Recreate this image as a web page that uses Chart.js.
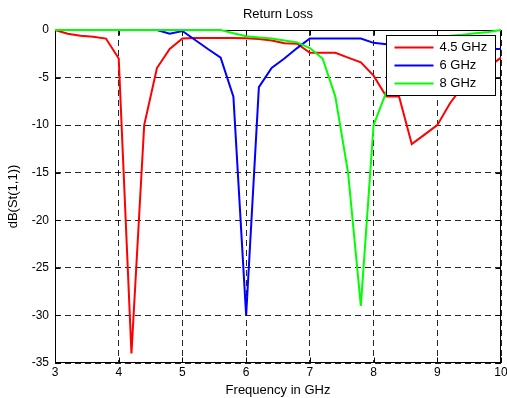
<!DOCTYPE html>
<html>
<head>
<meta charset="utf-8">
<script src="https://cdn.jsdelivr.net/npm/chart.js@4/dist/chart.umd.min.js"></script>
<style>
  html, body { margin: 0; padding: 0; background: #fff; }
  canvas { display: block; }
</style>
</head>
<body>
<canvas id="c" width="507" height="398"></canvas>
<script>
// Frequency samples (GHz)
const freq = [3.0, 3.2, 3.4, 3.6, 3.8, 4.0, 4.2, 4.4, 4.6, 4.8,
              5.0, 5.2, 5.4, 5.6, 5.8, 6.0, 6.2, 6.4, 6.6, 6.8,
              7.0, 7.2, 7.4, 7.6, 7.8, 8.0, 8.2, 8.4, 8.6, 8.8,
              9.0, 9.2, 9.4, 9.6, 9.8, 10.0];

// Return loss, dB(St(1,1))
const rl45 = [0, -0.4, -0.6, -0.7, -0.9, -3, -34, -10, -4, -2,
              -0.9, -0.85, -0.85, -0.85, -0.85, -0.87, -0.95, -1.1, -1.4, -1.45,
              -2.4, -2.4, -2.4, -2.9, -3.4, -4.8, -7, -7, -12, -11,
              -10, -7.7, -5.9, -4.9, -3.9, -2.9];

const rl6 = [0, 0, 0, 0, 0, 0, 0, 0, 0, -0.4,
             -0.1, -1.05, -2, -2.9, -7, -30, -6, -4, -3, -1.9,
             -0.9, -0.9, -0.9, -0.9, -0.9, -1.35, -1.5, -1.6, -1.7, -1.8,
             -1.85, -1.9, -1.95, -2, -2, -2];

const rl8 = [0, 0, 0, 0, 0, 0, 0, 0, 0, 0,
             0, 0, 0, 0, -0.35, -0.65, -0.8, -0.9, -1.1, -1.3,
             -1.9, -3, -7, -15, -29, -10, -6.5, -4, -2.5, -1.6,
             -1.0, -0.6, -0.5, -0.35, -0.2, 0];

const seriesNames = ['4.5 GHz', '6 GHz', '8 GHz'];
const seriesColors = ['#ff0000', '#0000ff', '#00ff00'];
const seriesValues = [rl45, rl6, rl8];

const xTicks = [3, 4, 5, 6, 7, 8, 9, 10];
const yTicks = [0, -5, -10, -15, -20, -25, -30, -35];

const FONT = 'Liberation Sans, Arial, Helvetica, sans-serif';

const framePlugin = {
  id: 'frame',
  beforeDatasetsDraw(chart) {
    const {ctx, chartArea: a, scales} = chart;
    ctx.save();
    ctx.strokeStyle = '#000';
    ctx.lineWidth = 1;
    ctx.setLineDash([]);
    const L = Math.round(a.left) + 0.5, R = Math.round(a.right) - 0.5;
    const T = Math.round(a.top) + 0.5, B = Math.round(a.bottom) - 0.5;
    ctx.strokeRect(L, T, R - L, B - T);
    ctx.beginPath();
    xTicks.forEach(v => {
      const x = Math.round(scales.x.getPixelForValue(v)) + 0.5;
      ctx.moveTo(x, B); ctx.lineTo(x, B - 5);
      ctx.moveTo(x, T); ctx.lineTo(x, T + 5);
    });
    yTicks.forEach(v => {
      const y = Math.round(scales.y.getPixelForValue(v)) + 0.5;
      ctx.moveTo(L, y); ctx.lineTo(L + 5, y);
      ctx.moveTo(R, y); ctx.lineTo(R - 5, y);
    });
    ctx.stroke();
    ctx.restore();
  }
};

const legendPlugin = {
  id: 'boxLegend',
  afterDraw(chart) {
    const {ctx, chartArea: a} = chart;
    const w = 109, h = 60;
    const x0 = Math.round(a.right) - 115 + 0.5;
    const y0 = Math.round(a.top) + 5 + 0.5;
    ctx.save();
    ctx.fillStyle = '#fff';
    ctx.fillRect(x0, y0, w, h);
    ctx.strokeStyle = '#000';
    ctx.lineWidth = 1;
    ctx.setLineDash([]);
    ctx.strokeRect(x0, y0, w, h);
    ctx.font = '13px ' + FONT;
    ctx.textBaseline = 'middle';
    ctx.textAlign = 'left';
    chart.data.datasets.forEach((ds, i) => {
      const y = y0 + 12 + i * 18;
      ctx.strokeStyle = ds.borderColor;
      ctx.lineWidth = 2;
      ctx.beginPath();
      ctx.moveTo(x0 + 8, y);
      ctx.lineTo(x0 + 47, y);
      ctx.stroke();
      ctx.fillStyle = '#000';
      ctx.fillText(ds.label, x0 + 53, y);
    });
    ctx.restore();
  }
};

const datasets = seriesNames.map((name, i) => ({
  label: name,
  data: freq.map((f, j) => ({x: f, y: seriesValues[i][j]})),
  borderColor: seriesColors[i],
  backgroundColor: seriesColors[i],
  borderWidth: 2,
  pointRadius: 0,
  tension: 0,
  fill: false,
  clip: false,
  order: 2 - i
}));

new Chart(document.getElementById('c'), {
  type: 'line',
  data: { datasets },
  options: {
    responsive: false,
    animation: false,
    layout: { padding: { left: 0, right: 6, top: 0, bottom: 0 } },
    plugins: {
      legend: { display: false },
      tooltip: { enabled: false },
      title: {
        display: true,
        text: 'Return Loss',
        fullSize: false,
        color: '#000',
        font: { family: FONT, size: 13, weight: 'normal', lineHeight: 1.2 },
        padding: { top: 7, bottom: 7.4 }
      }
    },
    scales: {
      x: {
        type: 'linear',
        min: 3, max: 10,
        afterBuildTicks(scale) { scale.ticks = xTicks.map(v => ({value: v})); },
        ticks: { color: '#000', font: { family: FONT, size: 12 }, padding: 2, maxRotation: 0,
                 callback: v => String(v) },
        grid: { color: 'rgba(0,0,0,0.85)', lineWidth: 1, drawTicks: false },
        border: { display: false, dash: [6, 4] },
        title: { display: true, text: 'Frequency in GHz', color: '#000',
                 font: { family: FONT, size: 13, lineHeight: 1.2 }, padding: { top: 0, bottom: 0 } },
        afterFit(scale) { scale.height = 35; scale.paddingLeft = 0; scale.paddingRight = 0; }
      },
      y: {
        type: 'linear',
        min: -35, max: 0,
        afterBuildTicks(scale) { scale.ticks = yTicks.slice().reverse().map(v => ({value: v})); },
        ticks: { color: '#000', font: { family: FONT, size: 12 }, padding: 6,
                 callback: v => String(v) },
        grid: { color: 'rgba(0,0,0,0.85)', lineWidth: 1, drawTicks: false },
        border: { display: false, dash: [6, 4] },
        title: { display: true, text: 'dB(St(1,1))', color: '#000',
                 font: { family: FONT, size: 13, lineHeight: 1.2 }, padding: { top: 6, bottom: 0 } },
        afterFit(scale) { scale.width = 55; scale.paddingTop = 0; scale.paddingBottom = 0; }
      }
    }
  },
  plugins: [framePlugin, legendPlugin]
});
</script>
</body>
</html>
